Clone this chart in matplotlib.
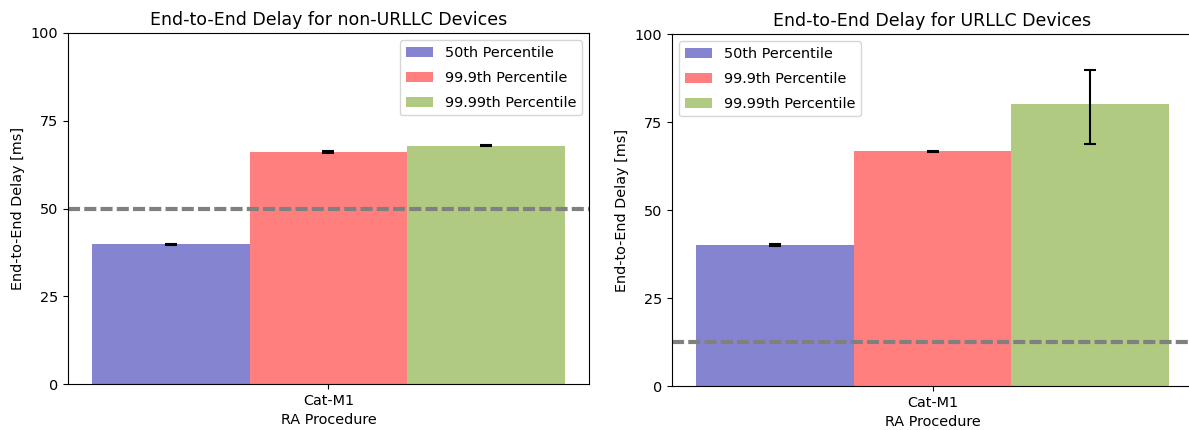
import matplotlib
matplotlib.use("Agg")
import matplotlib.pyplot as plt
import numpy as np

# values
category = ["Cat-M1"]
series = ["50th Percentile", "99.9th Percentile", "99.99th Percentile"]
colors = ["#8484d0", "#ff7f7f", "#b0ca82"]

non_urllc = [39.8, 66.1, 67.9]
non_urllc_err_lo = [0.2, 0.2, 0.2]
non_urllc_err_hi = [0.2, 0.2, 0.2]
non_urllc_limit = 50

urllc = [40.0, 66.7, 80.1]
urllc_err_lo = [0.2, 0.2, 11.4]
urllc_err_hi = [0.2, 0.2, 9.7]
urllc_limit = 12.5

fig = plt.figure(figsize=(11.89, 4.3), dpi=100)
ax1 = fig.add_axes([68/1189, 1-384/430, 521/1189, 351/430])
ax2 = fig.add_axes([672/1189, 1-386/430, 521/1189, 352/430])

def draw(ax, vals, lo, hi, limit, title, loc):
    w = 0.3
    x = np.arange(len(category))
    for i in range(len(series)):
        ax.bar(x + (i - 1)*w, vals[i], w, color=colors[i], label=series[i],
               yerr=[[lo[i]], [hi[i]]], capsize=4.5, ecolor="black",
               error_kw={"elinewidth": 1.5, "capthick": 1.5})
    ax.axhline(limit, color="gray", linestyle=(0, (2.9, 1.0)), linewidth=3)
    ax.set_xticks(x)
    ax.set_xticklabels(category, fontsize=10.4)
    ax.set_ylim(0, 100)
    ax.set_yticks([0, 25, 50, 75, 100])
    ax.tick_params(axis="y", labelsize=10.4)
    ax.set_xlabel("RA Procedure", fontsize=10.4)
    ax.set_ylabel("End-to-End Delay [ms]", fontsize=10.4)
    ax.set_title(title, fontsize=12.5)
    ax.legend(loc=loc, fontsize=10.4, labelspacing=0.75, handlelength=1.9)

draw(ax1, non_urllc, non_urllc_err_lo, non_urllc_err_hi, non_urllc_limit,
     "End-to-End Delay for non-URLLC Devices", "upper right")
draw(ax2, urllc, urllc_err_lo, urllc_err_hi, urllc_limit,
     "End-to-End Delay for URLLC Devices", "upper left")

fig.savefig("out.png", dpi=100)
